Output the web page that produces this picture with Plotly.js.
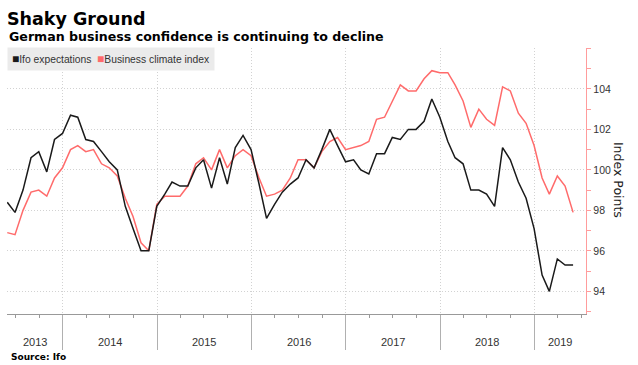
<!DOCTYPE html>
<html>
<head>
<meta charset="utf-8">
<script src="https://cdn.plot.ly/plotly-3.0.1.min.js"></script>
<style>html,body{margin:0;padding:0;background:#fff;}#chart{width:638px;height:365px;}</style>
</head>
<body>
<div id="chart"></div>
<script>
// Monthly observations, May 2013 through May 2019 (month-end dates)
const startYear = 2013, startMonth = 5, monthCount = 73;
const ifoExpectations = [
  98.4, 97.9, 99.0, 100.6, 100.9, 99.9, 101.5, 101.8,
  102.7, 102.6, 101.5, 101.4, 100.9, 100.4, 100.0, 98.2, 97.1, 96.0, 96.0, 98.2,
  98.8, 99.4, 99.2, 99.2, 100.1, 100.5, 99.1, 100.6, 99.3, 101.1, 101.7, 101.0,
  99.3, 97.6, 98.3, 98.9, 99.3, 99.6, 100.5, 100.1, 101.0, 102.0, 101.2, 100.4,
  100.5, 100.0, 99.8, 100.8, 100.8, 101.6, 101.5, 102.0, 102.0, 102.4, 103.5, 102.6,
  101.4, 100.6, 100.3, 99.0, 99.0, 98.8, 98.2, 101.1, 100.5, 99.4, 98.6, 97.1,
  94.8, 94.0, 95.6, 95.3, 95.3
];
const businessClimate = [
  96.9, 96.8, 98.0, 98.9, 99.0, 98.7, 99.6, 100.1,
  101.0, 101.2, 100.9, 101.0, 100.3, 100.1, 99.7, 98.6, 97.7, 96.4, 96.0, 98.3,
  98.7, 98.7, 98.7, 99.2, 100.3, 100.6, 100.0, 101.0, 100.1, 100.7, 101.0, 100.7,
  99.6, 98.7, 98.8, 99.0, 99.6, 100.5, 100.5, 100.1, 100.9, 101.4, 101.6, 101.0,
  101.1, 101.2, 101.4, 102.5, 102.6, 103.4, 104.2, 103.9, 103.9, 104.5, 104.9, 104.8,
  104.8, 104.2, 103.4, 102.1, 103.0, 102.5, 102.2, 104.1, 103.9, 102.8, 102.3, 101.2,
  99.6, 98.8, 99.7, 99.2, 97.9
];
const yearLabels = [2013, 2014, 2015, 2016, 2017, 2018, 2019];
const yTickVals = [94, 96, 98, 100, 102, 104, 106];
const yTickText = ['94', '96', '98', '100', '102', '104', ''];
const seriesNames = ['Ifo expectations', 'Business climate index'];

function pad(n){ return (n < 10 ? '0' : '') + n; }
const dates = [];
for (let i = 0; i < monthCount; i++) {
  const d = new Date(Date.UTC(startYear, startMonth - 1 + i + 1, 0));
  dates.push(d.getUTCFullYear() + '-' + pad(d.getUTCMonth() + 1) + '-' + pad(d.getUTCDate()));
}

const BLACK = '#1a1a1a', RED = '#ff6b6b', AXISRED = '#ff9c9c';
const GRID = '#d2d2d2', GRIDDASH = '1px,2px';
const xRange = ['2013-05-30', '2019-07-20'];

const traces = [
  {x: dates, y: businessClimate, type: 'scatter', mode: 'lines', name: seriesNames[1],
   line: {color: RED, width: 1.5}, showlegend: false, hoverinfo: 'skip'},
  {x: dates, y: ifoExpectations, type: 'scatter', mode: 'lines', name: seriesNames[0],
   line: {color: BLACK, width: 1.5}, showlegend: false, hoverinfo: 'skip'}
];

const annotations = [];
// subtitle
annotations.push({xref: 'paper', yref: 'paper', x: 0, y: 1.043, xanchor: 'left', yanchor: 'middle',
  showarrow: false, text: '<b>German business confidence is continuing to decline</b>',
  font: {family: 'DejaVu Sans', size: 12.6, color: '#000'}});
// legend box
annotations.push({xref: 'paper', yref: 'paper', x: 0, y: 1.004, xanchor: 'left', yanchor: 'top',
  showarrow: false, bgcolor: '#ebebeb', borderpad: 4,
  text: "<span style='color:" + BLACK + ";font-size:12px'>■</span>" + seriesNames[0] +
        "  <span style='color:" + RED + ";font-size:12px'>■</span>" + seriesNames[1],
  font: {family: 'Liberation Sans', size: 10.3, color: '#333'}});
// year labels centred in the visible part of each year
const r0 = new Date(xRange[0]).getTime(), r1 = new Date(xRange[1]).getTime();
yearLabels.forEach(y => {
  const a = Math.max(Date.UTC(y, 0, 1), r0), b = Math.min(Date.UTC(y + 1, 0, 1), r1);
  const mid = new Date((a + b) / 2).toISOString().slice(0, 10);
  annotations.push({xref: 'x', yref: 'paper', x: mid, y: -0.104, xanchor: 'center', yanchor: 'middle',
    showarrow: false, text: String(y), font: {family: 'Liberation Sans', size: 11, color: '#333'}});
});
// right axis title
annotations.push({xref: 'paper', yref: 'paper', x: 1.0553, y: 0.504, xanchor: 'center', yanchor: 'middle',
  showarrow: false, textangle: 90, text: 'Index Points',
  font: {family: 'DejaVu Sans', size: 12.5, color: '#222'}});
// source
annotations.push({xref: 'paper', yref: 'paper', x: 0, xshift: 2, y: -0.1617, xanchor: 'left', yanchor: 'middle',
  showarrow: false, text: '<b>Source: Ifo</b>', font: {family: 'DejaVu Sans', size: 9, color: '#000'}});

const layout = {
  width: 638, height: 365,
  margin: {l: 7, r: 52, t: 48, b: 51},
  paper_bgcolor: '#fff', plot_bgcolor: '#fff',
  title: {text: '<b>Shaky Ground</b>', font: {family: 'DejaVu Sans', size: 17.5, color: '#000'},
          xref: 'container', x: 7 / 638, xanchor: 'left', yref: 'container', y: 1 - 19 / 365, yanchor: 'middle'},
  xaxis: {
    type: 'date', range: xRange, tick0: '2013-01-01', dtick: 'M12',
    ticks: 'outside', ticklen: 35, tickcolor: '#b0b0b0', tickwidth: 1,
    showticklabels: false, showgrid: true, gridcolor: GRID, griddash: GRIDDASH, gridwidth: 1,
    showline: true, linecolor: '#999', linewidth: 1, zeroline: false,
    minor: {tick0: '2013-01-01', dtick: 'M3', ticks: 'outside', ticklen: 3, tickcolor: '#999', showgrid: false}
  },
  yaxis: {
    side: 'right', range: [92.88, 106.02], tickmode: 'array', tickvals: yTickVals, ticktext: yTickText,
    ticks: 'outside', ticklen: 4, tickcolor: AXISRED, tickwidth: 1,
    showline: true, linecolor: AXISRED, linewidth: 1.2, zeroline: false,
    showgrid: true, gridcolor: GRID, griddash: GRIDDASH, gridwidth: 1,
    tickfont: {family: 'Liberation Sans', size: 10.5, color: '#333'},
    minor: {tick0: 0, dtick: 1, ticks: 'outside', ticklen: 4, tickcolor: AXISRED, showgrid: false}
  },
  showlegend: false,
  annotations: annotations
};

Plotly.newPlot('chart', traces, layout, {staticPlot: true, displayModeBar: false});
</script>
</body>
</html>
